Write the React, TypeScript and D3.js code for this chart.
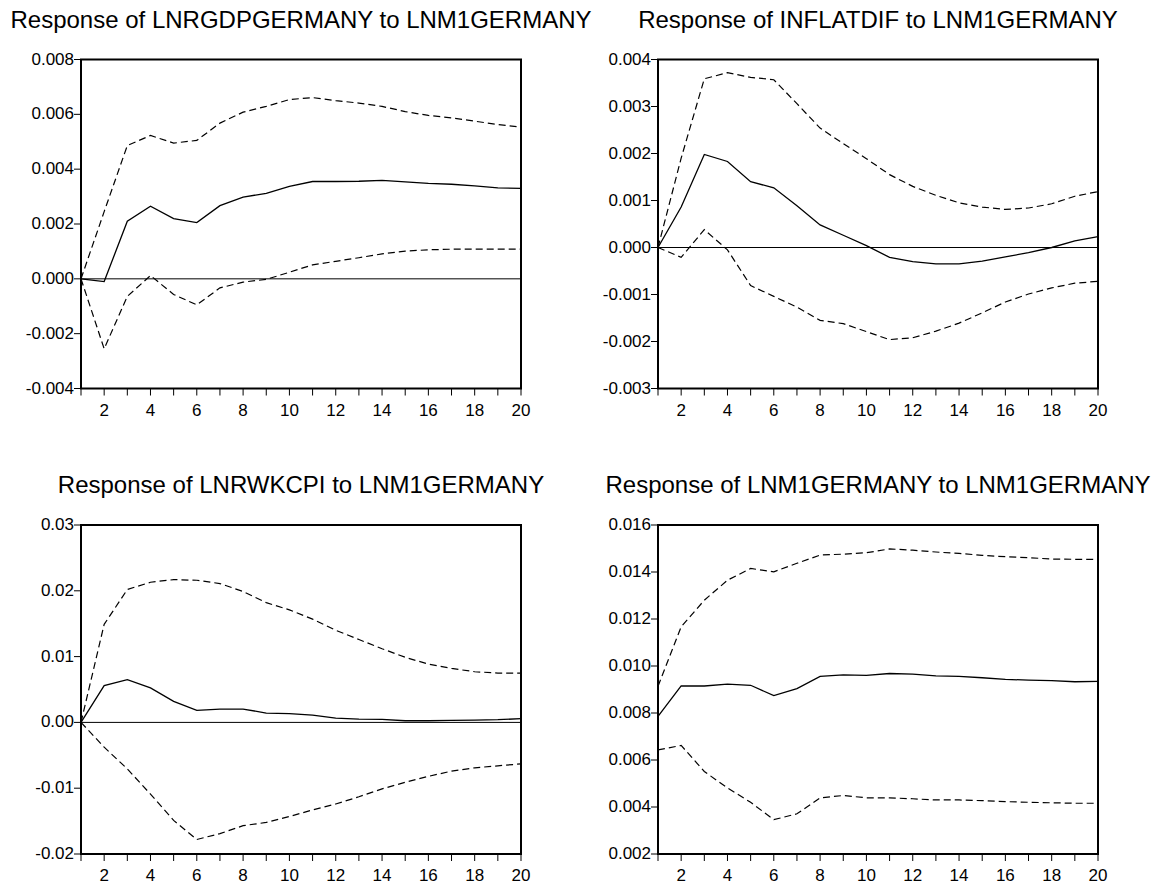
import * as d3 from "d3";

// impulse response periods
const periods = d3.range(1, 21);

const titles = [
  "Response of LNRGDPGERMANY to LNM1GERMANY",
  "Response of INFLATDIF to LNM1GERMANY",
  "Response of LNRWKCPI to LNM1GERMANY",
  "Response of LNM1GERMANY to LNM1GERMANY",
];

// y ranges and tick steps per panel
const yDomains: [number, number][] = [
  [-0.004, 0.008],
  [-0.003, 0.004],
  [-0.02, 0.03],
  [0.002, 0.016],
];
const yStep = [0.002, 0.001, 0.01, 0.002];
const yDecimals = [3, 3, 2, 3];

// responses (values in 1e-3)
const gdpMid = [0, -0.1, 2.1, 2.65, 2.2, 2.05, 2.67, 2.98, 3.12, 3.37, 3.55, 3.55, 3.56, 3.59, 3.54, 3.48, 3.45, 3.39, 3.32, 3.3];
const gdpUp = [0, 2.45, 4.86, 5.23, 4.95, 5.05, 5.68, 6.08, 6.29, 6.54, 6.61, 6.5, 6.41, 6.29, 6.1, 5.96, 5.87, 5.75, 5.63, 5.53];
const gdpLo = [0, -2.55, -0.64, 0.12, -0.57, -0.95, -0.33, -0.12, -0.02, 0.24, 0.51, 0.64, 0.77, 0.91, 1.01, 1.06, 1.08, 1.08, 1.08, 1.08];

const infMid = [0, 0.86, 1.98, 1.83, 1.4, 1.27, 0.89, 0.48, 0.26, 0.04, -0.21, -0.3, -0.35, -0.35, -0.29, -0.2, -0.11, 0.0, 0.14, 0.23];
const infUp = [0, 1.9, 3.59, 3.72, 3.62, 3.57, 3.06, 2.54, 2.21, 1.89, 1.55, 1.3, 1.11, 0.95, 0.86, 0.81, 0.84, 0.93, 1.09, 1.19];
const infLo = [0, -0.21, 0.38, -0.05, -0.81, -1.04, -1.27, -1.55, -1.62, -1.79, -1.96, -1.92, -1.78, -1.61, -1.39, -1.16, -0.99, -0.86, -0.76, -0.72];

const wkMid = [0, 5.6, 6.5, 5.24, 3.2, 1.83, 2.03, 2.03, 1.42, 1.32, 1.12, 0.66, 0.51, 0.46, 0.25, 0.25, 0.3, 0.36, 0.41, 0.56];
const wkUp = [0, 14.9, 20.2, 21.3, 21.7, 21.6, 21.1, 19.9, 18.2, 17.1, 15.7, 14.0, 12.6, 11.2, 9.9, 8.85, 8.2, 7.7, 7.5, 7.5];
const wkLo = [0, -3.76, -7.07, -10.9, -14.9, -17.8, -16.9, -15.7, -15.2, -14.3, -13.3, -12.4, -11.3, -10.1, -9.1, -8.2, -7.4, -6.9, -6.6, -6.3];

const m1Mid = [7.86, 9.15, 9.15, 9.23, 9.18, 8.74, 9.04, 9.56, 9.62, 9.6, 9.68, 9.65, 9.58, 9.56, 9.5, 9.43, 9.4, 9.38, 9.33, 9.35];
const m1Up = [9.14, 11.67, 12.8, 13.65, 14.15, 14.01, 14.37, 14.72, 14.76, 14.82, 14.98, 14.93, 14.85, 14.79, 14.71, 14.65, 14.61, 14.55, 14.54, 14.54];
const m1Lo = [6.43, 6.62, 5.51, 4.81, 4.2, 3.46, 3.71, 4.39, 4.49, 4.39, 4.39, 4.35, 4.3, 4.3, 4.27, 4.23, 4.2, 4.18, 4.16, 4.16];

const series = [
  [gdpMid, gdpUp, gdpLo],
  [infMid, infUp, infLo],
  [wkMid, wkUp, wkLo],
  [m1Mid, m1Up, m1Lo],
];

const W = 1158;
const H = 884;
const cols = [[81, 521], [658, 1098]];
const rows = [[59.5, 388.5], [525, 854]];
const font = "'Liberation Sans', Arial, sans-serif";

function Panel({ i }: { i: number }) {
  const [x0, x1] = cols[i % 2];
  const [y0, y1] = rows[Math.floor(i / 2)];
  const dom = yDomains[i];

  const x = d3.scaleLinear().domain([1, 20]).range([x0, x1]);
  const y = d3.scaleLinear().domain(dom).range([y1, y0]);

  const n = Math.round((dom[1] - dom[0]) / yStep[i]);
  const yTicks = d3.range(n + 1).map(k => dom[0] + k * yStep[i]);

  const line = d3.line<number>()
    .x((_, j) => x(periods[j]))
    .y(v => y(v / 1000));

  const [mid, up, lo] = series[i];
  const fmt = (v: number) => {
    const s = v.toFixed(yDecimals[i]);
    return s.startsWith("-") && Number(s) === 0 ? s.slice(1) : s;
  };

  return (
    <g>
      <text x={(x0 + x1) / 2} y={y0 - 32} textAnchor="middle" fontSize={24} fontFamily={font} fill="#000">
        {titles[i]}
      </text>

      {/* y ticks */}
      {yTicks.map(t => (
        <g key={t}>
          <line x1={x0 - 7} x2={x0} y1={y(t)} y2={y(t)} stroke="#000" strokeWidth={1} />
          <text x={x0 - 7} y={y(t) + 5} textAnchor="end" fontSize={17} fontFamily={font} fill="#000">
            {fmt(t)}
          </text>
        </g>
      ))}

      {/* x ticks */}
      {periods.map(p => (
        <g key={p}>
          <line x1={x(p)} x2={x(p)} y1={y1} y2={y1 + 7} stroke="#000" strokeWidth={1} />
          {p % 2 === 0 && (
            <text x={x(p)} y={y1 + 27} textAnchor="middle" fontSize={17} fontFamily={font} fill="#000">
              {p}
            </text>
          )}
        </g>
      ))}

      {dom[0] < 0 && (
        <line x1={x0} x2={x1} y1={y(0)} y2={y(0)} stroke="#000" strokeWidth={1} />
      )}

      <path d={line(up) ?? ""} fill="none" stroke="#000" strokeWidth={1.2} strokeDasharray="7,4" />
      <path d={line(lo) ?? ""} fill="none" stroke="#000" strokeWidth={1.2} strokeDasharray="7,4" />
      <path d={line(mid) ?? ""} fill="none" stroke="#000" strokeWidth={1.3} />

      <rect x={x0} y={y0} width={x1 - x0} height={y1 - y0} fill="none" stroke="#000" strokeWidth={2} />
    </g>
  );
}

export default function App() {
  return (
    <svg width={W} height={H} style={{ position: "absolute", left: 0, top: 0, background: "#fff" }}>
      <rect width={W} height={H} fill="#fff" />
      {[0, 1, 2, 3].map(i => <Panel key={i} i={i} />)}
    </svg>
  );
}
